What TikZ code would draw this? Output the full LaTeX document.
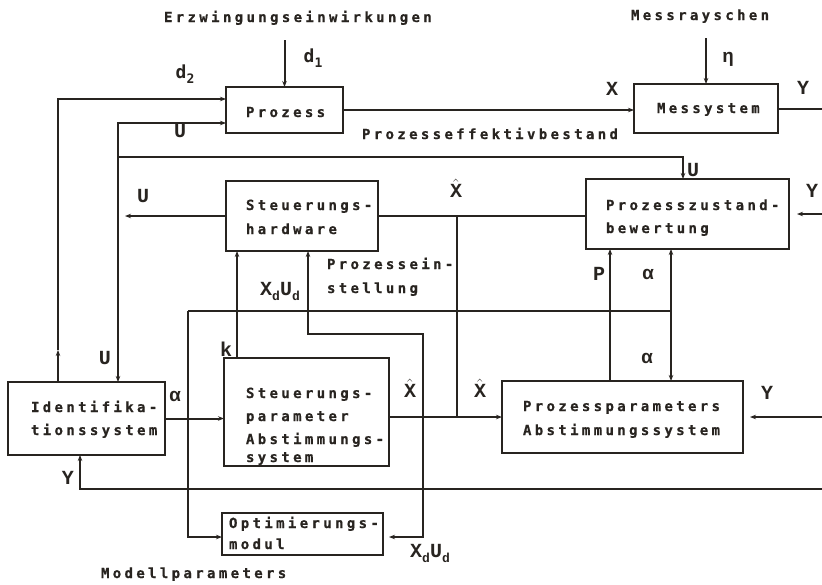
\documentclass[tikz,border=0pt]{standalone}
\usepackage{fontspec}
\usetikzlibrary{arrows.meta}
\newfontfamily\dotfont[LetterSpace=24,UprightFont={* Bold},FakeBold=0.6]{DejaVu Sans Mono}
\newfontfamily\lblfont[UprightFont={* Bold}]{Liberation Mono}
\newfontfamily\dfont[UprightFont={* Bold}]{DejaVu Sans Mono}
\definecolor{ink}{RGB}{40,36,32}
\newcommand{\sbd}[1]{\lower5pt\hbox{\fontsize{13}{13}\selectfont #1}}
\newcommand{\xhat}{$\hat{\hbox{X}}$}
\begin{document}
\begin{tikzpicture}[x=1pt,y=-1pt,color=ink,line width=2pt,
  box/.style={draw=ink,line width=2.2pt,rectangle,inner sep=0pt,outer sep=0pt,anchor=north west},
  txt/.style={inner sep=0pt,anchor=base west,text=ink,font=\dotfont\fontsize{14}{14}\selectfont},
  lbl/.style={inner sep=0pt,text=ink,font=\lblfont\fontsize{20}{20}\selectfont},
  dlbl/.style={inner sep=0pt,text=ink,font=\dfont\fontsize{18}{18}\selectfont},
  glbl/.style={inner sep=0pt,text=ink,font=\lblfont\fontsize{19}{19}\selectfont},
  arr/.style={-{Stealth[length=6pt,width=4.5pt]}},
  darr/.style={{Stealth[length=6pt,width=4.5pt]}-{Stealth[length=6pt,width=4.5pt]}},
]
\useasboundingbox[fill=white] (0,0) rectangle (822,584);

% boxes
\node[box,minimum width=117pt,minimum height=46pt] (prozess) at (226,87) {};
\node[box,minimum width=144pt,minimum height=49pt] (mess) at (634,84) {};
\node[box,minimum width=152pt,minimum height=70pt] (hw) at (226,181) {};
\node[box,minimum width=203pt,minimum height=70pt] (zust) at (586,179) {};
\node[box,minimum width=157pt,minimum height=73pt] (ident) at (8,382) {};
\node[box,minimum width=165pt,minimum height=108pt] (spas) at (224,358) {};
\node[box,minimum width=241pt,minimum height=72pt] (ppas) at (502,381) {};
\node[box,minimum width=161pt,minimum height=42pt] (optim) at (222,513) {};

% texts
\node[txt] (tE) at (163,22) {Erzwingungseinwirkungen};
\node[txt] (tM) at (630,20) {Messrayschen};
\node[txt] (tP) at (245,117) {Prozess};
\node[txt] (tMs) at (656,113) {Messystem};
\node[txt] (tPe) at (361,139) {Prozesseffektivbestand};
\node[txt] (tS1) at (245,210) {Steuerungs-};
\node[txt] (tS2) at (245,234) {hardware};
\node[txt] (tZ1) at (605,210) {Prozesszustand-};
\node[txt] (tZ2) at (605,233) {bewertung};
\node[txt] (tE1) at (326,269) {Prozessein-};
\node[txt] (tE2) at (326,293) {stellung};
\node[txt] (tI1) at (30,412) {Identifika-};
\node[txt] (tI2) at (30,435) {tionssystem};
\node[txt] (tA1) at (245,398) {Steuerungs-};
\node[txt] (tA2) at (245,421) {parameter};
\node[txt] (tA3) at (245,444) {Abstimmungs-};
\node[txt] (tA4) at (245,462) {system};
\node[txt] (tQ1) at (522,411) {Prozessparameters};
\node[txt] (tQ2) at (522,435) {Abstimmungssystem};
\node[txt] (tO1) at (228,528) {Optimierungs-};
\node[txt] (tO2) at (228,549) {modul};
\node[txt] (tMP) at (100,578) {Modellparameters};

% coordinates
\coordinate (d1s) at (284.5,40);
\coordinate (etas) at (706,38);
\coordinate (yout) at (822,108.5);
\coordinate (d2c) at (58,99);
\coordinate (d2m) at (58,350);
\coordinate (ut) at (118,123);
\coordinate (ub) at (118,157);
\coordinate (uz) at (683,157);
\coordinate (xh) at (457,216);
\coordinate (atl) at (188,311);
\coordinate (atr) at (671,311);
\coordinate (abl) at (188,537);
\coordinate (px) at (610,311);
\coordinate (kx) at (237,311);
\coordinate (xa) at (308,334);
\coordinate (xb) at (423,334);
\coordinate (xc) at (423,537);
\coordinate (yb) at (80,489);
\coordinate (ybr) at (822,489);
\coordinate (yp) at (822,417);
\coordinate (yz) at (822,214);

% connectors
\draw[arr] (d1s) -- (prozess.north);
\draw[arr] (etas) -- (mess.north);
\draw[arr] (prozess.east) -- (prozess.east -| mess.west);
\draw (mess.east) -- (yout);
\draw[arr] (d2c |- ident.north) -- (d2m);
\draw[arr] (d2m) -- (d2c) -- (d2c -| prozess.west);
\draw[darr] (ut |- ident.north) -- (ut) -- (ut -| prozess.west);
\draw[arr] (ub) -- (uz) -- (uz |- zust.north);
\draw[arr,shorten >=7pt] (hw.west) -- (hw.west -| ut);
\draw (hw.east) -- (hw.east -| zust.west);
\draw (xh) -- (xh |- ppas.west);
\draw[arr] (spas.east |- ppas.west) -- (ppas.west);
\draw[arr] (ident.east) -- (ident.east -| spas.west);
\draw[arr] (atl) -- (abl) -- (abl -| optim.west);
\draw (atl) -- (atr);
\draw[arr] (atr) -- (atr |- zust.south);
\draw[arr] (atr) -- (atr |- ppas.north);
\draw[arr] (px |- ppas.north) -- (px |- zust.south);
\draw[arr] (kx |- spas.north) -- (kx |- hw.south);
\draw[darr,shorten <=6pt] (xc -| optim.east) -- (xc) -- (xb) -- (xa) -- (xa |- hw.south);
\draw[arr] (ybr) -- (yb) -- (yb |- ident.south);
\draw[arr,shorten >=7pt] (yp) -- (ppas.east);
\draw[arr,shorten >=8pt] (yz) -- (zust.east);

% labels
\node[dlbl] (ld1) at (313,58) {d\sbd{1}};
\node[dlbl] (ld2) at (185,74) {d\sbd{2}};
\node[glbl] (leta) at (728,59) {η};
\node[lbl] (lX) at (612,89) {X};
\node[lbl] (lYm) at (803,88) {Y};
\node[lbl] (lU1) at (180,131) {U};
\node[lbl] (lU2) at (143,196) {U};
\node[lbl] (lU3) at (693,170) {U};
\node[lbl] (lU4) at (105,358) {U};
\node[lbl] (lXh1) at (456,188) {\xhat};
\node[lbl] (lXh2) at (410,388) {\xhat};
\node[lbl] (lXh3) at (480,388) {\xhat};
\node[lbl] (lYz) at (812,191) {Y};
\node[lbl] (lP) at (599,274) {P};
\node[glbl] (la1) at (648,274) {α};
\node[glbl] (la2) at (175,396) {α};
\node[glbl] (la3) at (647,358) {α};
\node[lbl] (lk) at (226,349) {k};
\node[lbl] (lYp) at (767,393) {Y};
\node[lbl] (lYi) at (68,478) {Y};
\node[lbl] (lxu1) at (280,291) {X\sbd{d}U\sbd{d}};
\node[lbl] (lxu2) at (430,553) {X\sbd{d}U\sbd{d}};
\end{tikzpicture}
\end{document}
